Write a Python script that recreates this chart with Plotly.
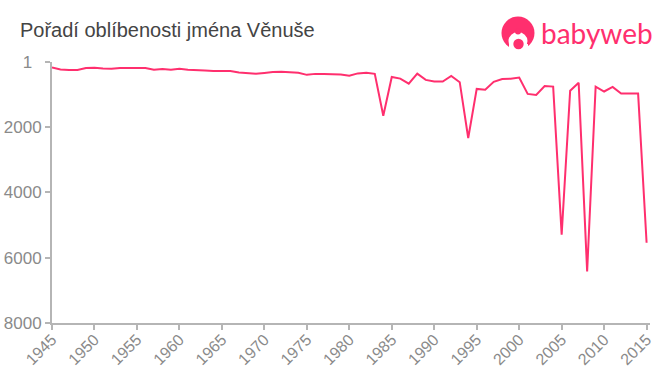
import plotly.graph_objects as go

years = list(range(1945, 2016))
ranks = [170, 230, 245, 245, 185, 175, 200, 205, 185, 185, 185, 185, 240, 215, 240, 210, 235, 240, 265, 275,
         275, 275, 320, 330, 360, 335, 305, 300, 320, 330, 395, 365, 365, 365, 385, 420, 350, 330, 365, 1650,
         460, 510, 665, 358, 550, 600, 600, 430, 620, 2330, 825, 850, 610, 520, 515, 480, 980, 1010, 735, 755,
         5290, 880, 635, 6420, 755, 905, 765, 970, 970, 970, 5540]
x_ticks = list(range(1945, 2016, 5))
y_ticks = [1, 2000, 4000, 6000, 8000]
y_labels = ["1\u2007", "2000", "4000", "6000", "8000"]
title = "Pořadí oblíbenosti jména Věnuše"
brand = "babyweb"
PINK = "#ff2f6e"
W, H = 660, 375
L, R, T, B = 52, 10, 62, 51.5
PW, PH = W - L - R, H - T - B

def px(x): return (x - L) / PW
def py(y): return 1 - (y - T) / PH

def circle(cx, cy, rx, color, ry=None):
    ry = ry or rx
    return dict(type="circle", xref="paper", yref="paper", x0=px(cx - rx), x1=px(cx + rx),
                y0=py(cy + ry), y1=py(cy - ry), fillcolor=color, opacity=1, line_width=0, layer="above")

def rect(x0, y0, x1, y1, color):
    return dict(type="rect", xref="paper", yref="paper", x0=px(x0), x1=px(x1), y0=py(y1), y1=py(y0),
                fillcolor=color, opacity=1, line_width=0, layer="above")

fig = go.Figure(go.Scatter(x=years, y=ranks, mode="lines", line=dict(color=PINK, width=2), hoverinfo="skip", cliponaxis=False))
fig.update_layout(
    template="none", width=W, height=H, autosize=False, showlegend=False, plot_bgcolor="white", paper_bgcolor="white",
    margin=dict(l=L, r=R, t=T, b=B),
    font=dict(family="Liberation Sans, Arial, sans-serif"),
    annotations=[
        dict(text=title, xref="paper", yref="paper", x=px(18), y=py(30), xanchor="left", yanchor="middle",
             showarrow=False, font=dict(size=20, color="#444444")),
        dict(text=brand, xref="paper", yref="paper", x=px(539), y=py(33), xanchor="left", yanchor="middle",
             showarrow=False, font=dict(family="Lato, sans-serif", size=28, color=PINK)),
    ],
    shapes=[
        circle(518, 33, 16.5, PINK),
        circle(518, 41, 9.5, "white", 9),
        rect(509, 44, 528, 51, "white"),
        circle(518, 31.5, 3, PINK),
        circle(518.5, 44, 5.2, PINK),
    ],
)
axis = dict(showgrid=False, zeroline=False, showline=True, linecolor="#b5b5b5", linewidth=2, ticks="outside",
            tickcolor="#b5b5b5", tickwidth=1.5, ticklen=5, automargin=False)
fig.update_xaxes(range=[1945, 2015.4], tickvals=x_ticks, ticktext=[str(v) for v in x_ticks], tickangle=-45,
                 tickfont=dict(size=16, color="#8a8a8a"), ticklabelstandoff=-6, **axis)
fig.update_yaxes(range=[8000, 1], tickvals=y_ticks, ticktext=y_labels, tickfont=dict(size=17, color="#8a8a8a"), **axis)
fig.write_html("out.html", config={"displayModeBar": False}, post_script="document.body.style.margin='0';")
